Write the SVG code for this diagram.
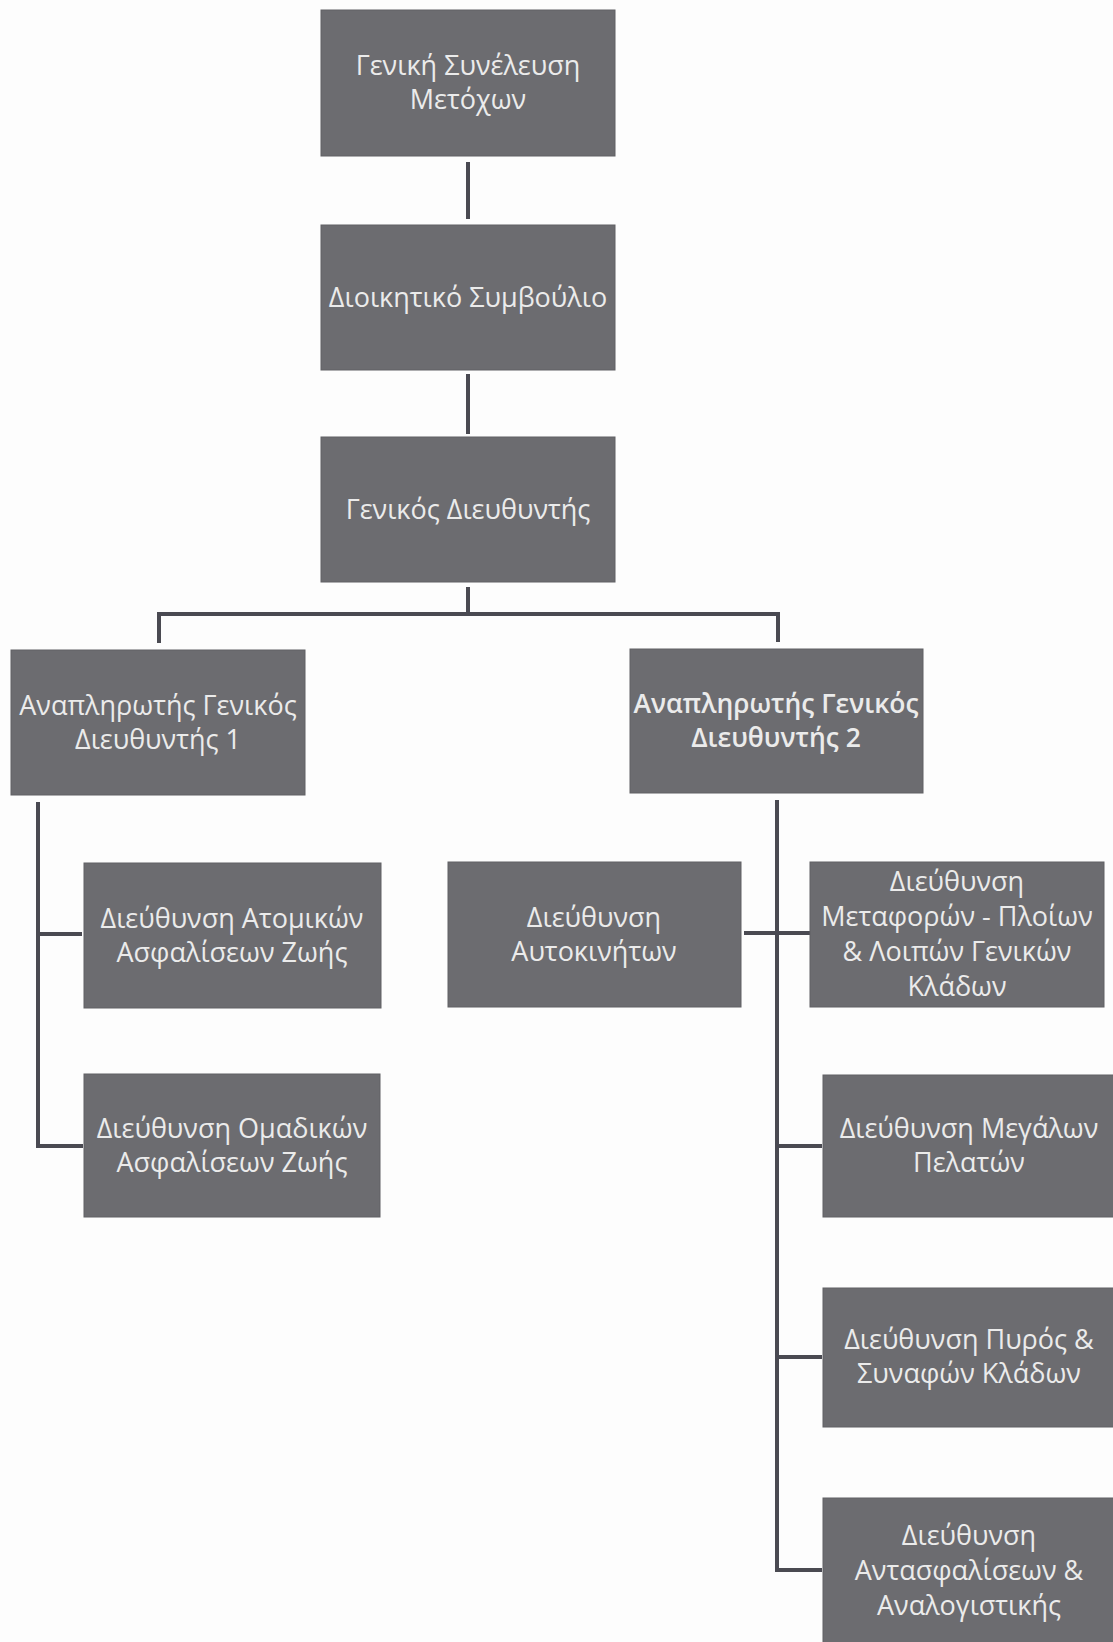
<svg xmlns="http://www.w3.org/2000/svg" width="1113" height="1642" viewBox="0 0 1113 1642">
<style>
.box{fill:#6c6c70;stroke:#606064;stroke-width:1}
.t{font-family:"Open Sans","Noto Sans","DejaVu Sans",sans-serif;font-size:27px;fill:#ebebeb;text-anchor:middle}
.b{font-weight:600;font-size:26.5px}
.c{stroke:#4a4a52;stroke-width:4;fill:none;stroke-linecap:butt}
</style>
<rect width="1113" height="1642" fill="#fdfdfd"/>
<g id="connectors">
<path class="c" d="M468 162V219"/>
<path class="c" d="M468 374V434"/>
<path class="c" d="M468 587V614"/>
<path class="c" d="M159 643V614H778V642"/>
<path class="c" d="M38 802V1148"/>
<path class="c" d="M38 934H82"/>
<path class="c" d="M38 1146H83"/>
<path class="c" d="M777 800V1572"/>
<path class="c" d="M744 933H810"/>
<path class="c" d="M777 1146H822"/>
<path class="c" d="M777 1357H822"/>
<path class="c" d="M775 1570H822"/>
</g>
<g id="n1"><rect class="box" x="321" y="10" width="294" height="146"/>
<text class="t" x="468" y="75">Γενική Συνέλευση</text><text class="t" x="468" y="109">Μετόχων</text></g>
<g id="n2"><rect class="box" x="321" y="225" width="294" height="145"/>
<text class="t" x="468" y="307">Διοικητικό Συμβούλιο</text></g>
<g id="n3"><rect class="box" x="321" y="437" width="294" height="145"/>
<text class="t" x="468" y="519">Γενικός Διευθυντής</text></g>
<g id="n4"><rect class="box" x="11" y="650" width="294" height="145"/>
<text class="t" x="158" y="715">Αναπληρωτής Γενικός</text><text class="t" x="158" y="749">Διευθυντής 1</text></g>
<g id="n5"><rect class="box" x="630" y="649" width="293" height="144"/>
<text class="t b" x="776" y="713">Αναπληρωτής Γενικός</text><text class="t b" x="776" y="747">Διευθυντής 2</text></g>
<g id="n6"><rect class="box" x="84" y="863" width="297" height="145"/>
<text class="t" x="232" y="928">Διεύθυνση Ατομικών</text><text class="t" x="232" y="962">Ασφαλίσεων Ζωής</text></g>
<g id="n7"><rect class="box" x="84" y="1074" width="296" height="143"/>
<text class="t" x="232" y="1138">Διεύθυνση Ομαδικών</text><text class="t" x="232" y="1172">Ασφαλίσεων Ζωής</text></g>
<g id="n8"><rect class="box" x="448" y="862" width="293" height="145"/>
<text class="t" x="594" y="927">Διεύθυνση</text><text class="t" x="594" y="961">Αυτοκινήτων</text></g>
<g id="n9"><rect class="box" x="810" y="862" width="294" height="145"/>
<text class="t" x="957" y="891">Διεύθυνση</text><text class="t" x="957" y="926">Μεταφορών - Πλοίων</text><text class="t" x="957" y="961">&amp; Λοιπών Γενικών</text><text class="t" x="957" y="996">Κλάδων</text></g>
<g id="n10"><rect class="box" x="823" y="1075" width="300" height="142"/>
<text class="t" x="969" y="1138">Διεύθυνση Μεγάλων</text><text class="t" x="969" y="1172">Πελατών</text></g>
<g id="n11"><rect class="box" x="823" y="1288" width="300" height="139"/>
<text class="t" x="969" y="1349">Διεύθυνση Πυρός &amp;</text><text class="t" x="969" y="1383">Συναφών Κλάδων</text></g>
<g id="n12"><rect class="box" x="823" y="1498" width="300" height="160"/>
<text class="t" x="969" y="1545">Διεύθυνση</text><text class="t" x="969" y="1580">Αντασφαλίσεων &amp;</text><text class="t" x="969" y="1615">Αναλογιστικής</text></g>
</svg>
